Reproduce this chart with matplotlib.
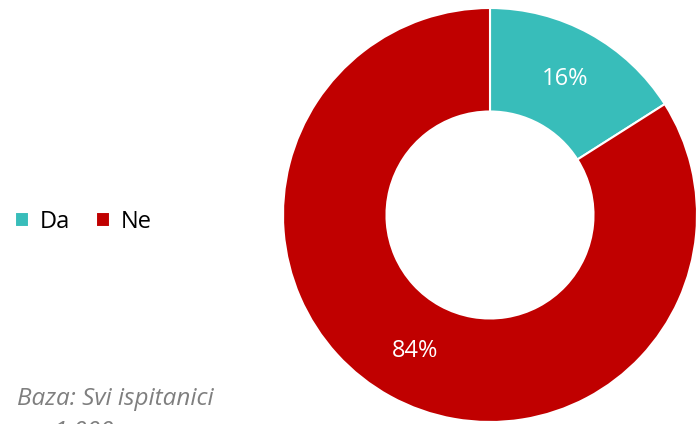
import matplotlib
matplotlib.use("Agg")
import matplotlib.pyplot as plt

categories = ["Da", "Ne"]
values = [16, 84]
colors = ["#38BDBA", "#C00000"]
base_note = "Baza: Svi ispitanici"
sample_note = "n=1.000"

plt.rcParams["font.family"] = ["Open Sans", "DejaVu Sans"]

W, H = 697, 424
fig = plt.figure(figsize=(W / 100, H / 100), dpi=100)

# Donut axes: centre at (490, 215) px from top-left, radius 207 px
cx, cy, r = 490, 215, 207
ax = fig.add_axes([(cx - r) / W, (H - cy - r) / H, 2 * r / W, 2 * r / H])
wedges, _, autotexts = ax.pie(
    values, colors=colors, startangle=90, counterclock=False,
    autopct=lambda p: f"{p:.0f}%", pctdistance=0.75,
    wedgeprops=dict(width=0.5, edgecolor="white", linewidth=1.5),
    textprops=dict(color="white", fontsize=17),
)
ax.set_xlim(-1, 1)
ax.set_ylim(-1, 1)
ax.set_aspect("equal")
ax.axis("off")

fig.legend(wedges, categories, loc="center left",
           bbox_to_anchor=(-6 / W, 1 - 222 / H), ncol=2, frameon=False,
           fontsize=17, handlelength=0.6, handleheight=0.6,
           handletextpad=0.45, columnspacing=1.1)

fig.text(17 / W, 1 - 399 / H, base_note, style="italic", color="#7F7F7F",
         fontsize=17.5, va="center", ha="left")
fig.text(114 / W, 1 - 438 / H, sample_note, style="italic", color="#7F7F7F",
         fontsize=17.5, va="baseline", ha="right")

fig.savefig("out.png", dpi=100)
